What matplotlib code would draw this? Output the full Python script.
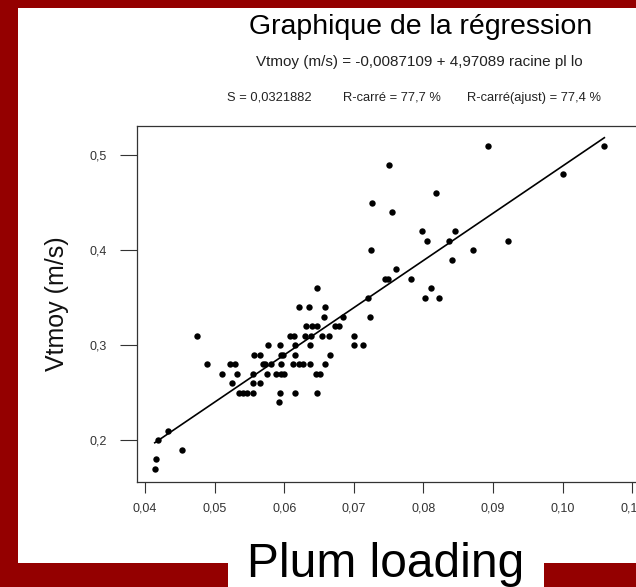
import matplotlib
matplotlib.use('Agg')
import matplotlib.pyplot as plt
from matplotlib.patches import Rectangle

plt.rcParams['font.family'] = ['Liberation Sans', 'DejaVu Sans']

# ---- data ----
plum_loading = [
    0.0414, 0.0416, 0.0453, 0.0419, 0.0433,
    0.0593,
    0.0535, 0.0541, 0.0547, 0.0555, 0.0594, 0.0616, 0.0647,
    0.0525, 0.0555, 0.0565,
    0.0511, 0.0532, 0.0555, 0.0575, 0.0588, 0.0595, 0.0600, 0.0646, 0.0651,
    0.0489, 0.0522, 0.0529, 0.0570, 0.0572, 0.0581, 0.0595, 0.0613, 0.0621, 0.0627, 0.0637, 0.0659,
    0.0557, 0.0565, 0.0595, 0.0598, 0.0616, 0.0666,
    0.0577, 0.0594, 0.0616, 0.0637, 0.0700, 0.0713,
    0.0475, 0.0608, 0.0614, 0.0630, 0.0639, 0.0654, 0.0664, 0.0700,
    0.0631, 0.0640, 0.0647, 0.0673, 0.0679,
    0.0657, 0.0685, 0.0723,
    0.0621, 0.0636, 0.0659,
    0.0720, 0.0802, 0.0822,
    0.0647, 0.0811,
    0.0745, 0.0749, 0.0782,
    0.0761,
    0.0841,
    0.0725, 0.0871,
    0.0805, 0.0837, 0.0922,
    0.0798, 0.0845,
    0.0755,
    0.0726,
    0.0818,
    0.1001,
    0.0751,
    0.0893, 0.1060,
]
vtmoy = [
    0.17, 0.18, 0.19, 0.20, 0.21,
    0.24,
    0.25, 0.25, 0.25, 0.25, 0.25, 0.25, 0.25,
    0.26, 0.26, 0.26,
    0.27, 0.27, 0.27, 0.27, 0.27, 0.27, 0.27, 0.27, 0.27,
    0.28, 0.28, 0.28, 0.28, 0.28, 0.28, 0.28, 0.28, 0.28, 0.28, 0.28, 0.28,
    0.29, 0.29, 0.29, 0.29, 0.29, 0.29,
    0.30, 0.30, 0.30, 0.30, 0.30, 0.30,
    0.31, 0.31, 0.31, 0.31, 0.31, 0.31, 0.31, 0.31,
    0.32, 0.32, 0.32, 0.32, 0.32,
    0.33, 0.33, 0.33,
    0.34, 0.34, 0.34,
    0.35, 0.35, 0.35,
    0.36, 0.36,
    0.37, 0.37, 0.37,
    0.38,
    0.39,
    0.40, 0.40,
    0.41, 0.41, 0.41,
    0.42, 0.42,
    0.44,
    0.45,
    0.46,
    0.48,
    0.49,
    0.51, 0.51,
]
intercept = -0.0087109
slope = 4.97089

x_ticks = [0.04, 0.05, 0.06, 0.07, 0.08, 0.09, 0.10, 0.11]
x_tick_labels = ['0,04', '0,05', '0,06', '0,07', '0,08', '0,09', '0,10', '0,11']
y_ticks = [0.2, 0.3, 0.4, 0.5]
y_tick_labels = ['0,2', '0,3', '0,4', '0,5']

title = 'Graphique de la régression'
equation = 'Vtmoy (m/s) = -0,0087109 + 4,97089 racine pl lo'
stats_parts = ['S = 0,0321882', 'R-carré = 77,7 %', 'R-carré(ajust) = 77,4 %']
y_label = 'Vtmoy (m/s)'
x_label = 'Plum loading'

# ---- figure ----
W, H = 636, 587
RED = '#940000'
fig = plt.figure(figsize=(W / 100, H / 100), dpi=100, facecolor=RED)

def fx(px):
    return px / W

def fy(py):
    return 1 - py / H

# white panel and label box
fig.patches.append(Rectangle((fx(18), fy(563)), fx(636) - fx(18), fy(8) - fy(563),
                             transform=fig.transFigure, facecolor='white',
                             edgecolor='none', zorder=-5))
fig.patches.append(Rectangle((fx(228), 0), fx(544) - fx(228), fy(540),
                             transform=fig.transFigure, facecolor='white',
                             edgecolor='none', zorder=-5))

ax_left, ax_right, ax_top, ax_bottom = 137, 650, 126, 482
ax = fig.add_axes([fx(ax_left), fy(ax_bottom), fx(ax_right) - fx(ax_left),
                   fy(ax_top) - fy(ax_bottom)])
ax.set_facecolor('white')

ax.plot(plum_loading, vtmoy, linestyle='none', marker='o', ms=4.6,
        color='black', markeredgewidth=0)
xmin, xmax = min(plum_loading), max(plum_loading)
ax.plot([xmin, xmax], [intercept + slope * xmin, intercept + slope * xmax],
        color='black', lw=1.2)

ax.set_xlim(0.03885, 0.11256)
ax.set_ylim(0.15579, 0.53053)
ax.set_xticks(x_ticks)
ax.set_xticklabels(x_tick_labels)
ax.set_yticks(y_ticks)
ax.set_yticklabels(y_tick_labels)

for sp in ax.spines.values():
    sp.set_color('#333333')
    sp.set_linewidth(0.9)

ax.tick_params(axis='x', direction='out', length=8, width=0.8, color='#333333',
               labelsize=9, labelcolor='#333333', pad=7)
ax.tick_params(axis='y', direction='out', length=12, width=0.8, color='#333333',
               labelsize=9, labelcolor='#333333', pad=10)

fig.text(fx(57), fy(304), y_label, rotation=90, ha='center', va='center',
         fontsize=18, color='#111111')
fig.text(fx(386), fy(577), x_label, ha='center', va='baseline',
         fontsize=34.5, color='black')

fig.text(fx(421), fy(27), title, ha='center', va='center', fontsize=20.5,
         color='black')
fig.text(fx(419), fy(66), equation, ha='center', va='baseline', fontsize=11,
         color='#222222')
for part, left in zip(stats_parts, [227, 343, 467]):
    fig.text(fx(left), fy(101), part, ha='left', va='baseline', fontsize=9.3,
             color='#222222')

fig.savefig('out.png', dpi=100, facecolor=RED)
